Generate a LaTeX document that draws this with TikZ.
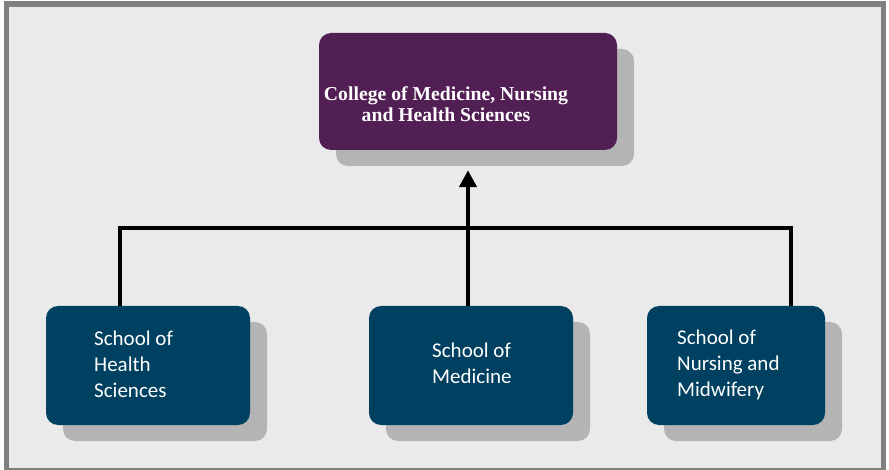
\documentclass[tikz,border=0pt]{standalone}
\usepackage{fontspec}
\newfontfamily\boxfont{Carlito}
\newfontfamily\titlefont{Liberation Serif}
\usetikzlibrary{arrows.meta,shadows,calc}
\definecolor{framegray}{RGB}{128,128,128}
\definecolor{bggray}{RGB}{234,234,234}
\definecolor{shadowgray}{RGB}{180,180,180}
\definecolor{purplebox}{RGB}{82,31,85}
\definecolor{bluebox}{RGB}{0,64,96}
\tikzset{
  orgbox/.style={draw=none, rounded corners=12pt, inner sep=0pt,
    drop shadow={shadow xshift=17pt, shadow yshift=-16pt, fill=shadowgray, opacity=1}},
  topbox/.style={orgbox, fill=purplebox, minimum width=298pt, minimum height=117pt},
  schoolbox/.style={orgbox, fill=bluebox, minimum height=119pt},
  schooltext/.style={anchor=west, align=left, inner sep=0pt, text=white,
    font=\boxfont\fontsize{21}{26}\selectfont},
  titletext/.style={align=center, inner sep=0pt, text=white,
    font=\titlefont\bfseries\fontsize{19.7}{21}\selectfont},
  link/.style={line width=4.8pt, black, line join=miter},
}
\begin{document}
\begin{tikzpicture}[x=1pt,y=-1pt]
\useasboundingbox (0,0) rectangle (889,470);
\fill[white] (0,0) rectangle (889,470);
\fill[framegray] (4,1) rectangle (886,470);
\fill[bggray] (9,7) rectangle (881,467.5);

\node[topbox] (top) at (468,91.5) {};
\node[schoolbox, minimum width=204pt] (hs) at (148,365.5) {};
\node[schoolbox, minimum width=204pt] (nm) at (471,365.5) {};
\node[schoolbox, minimum width=178pt] (nw) at (736,365.5) {};

\node[titletext] (tt) at (446,104) {College of Medicine, Nursing\\and Health Sciences};

\node[schooltext] (hst) at (94,364) {School of\\Health\\Sciences};
\node[schooltext] (nmt) at (432,363) {School of\\Medicine};
\node[schooltext] (nwt) at (677,365) {School of\\Nursing and\\Midwifery};

\coordinate (bl) at (120,228);
\coordinate (br) at (791,228);
\draw[link] (hs.north -| bl) -- (bl) -- (br) -- (nw.north -| br);
\draw[link, -{Triangle[length=17pt,width=17pt]}, shorten >=20pt]
  (nm.north -| top.south) -- (top.south);
\end{tikzpicture}
\end{document}
